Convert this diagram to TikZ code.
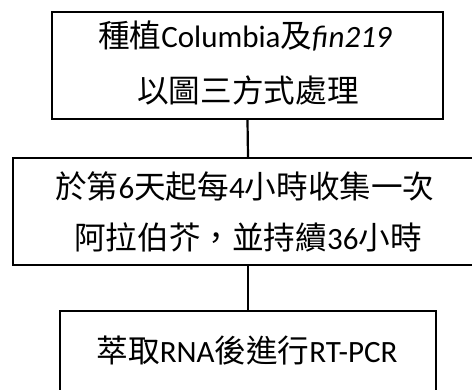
\documentclass[tikz,border=0pt]{standalone}
\usepackage{fontspec}
\setmainfont{Carlito}
\newfontfamily\cjk[Scale=1.02]{Noto Sans CJK TC}
\begin{document}
\begin{tikzpicture}[x=1pt,y=-1pt,
  box/.style={draw=black,line width=2.2pt,minimum height=107pt,inner sep=0pt},
  txt/.style={font=\fontsize{31}{36}\selectfont,inner sep=0pt,anchor=center},
  link/.style={draw=black,line width=2.2pt}]
\useasboundingbox[fill=white] (0,0) rectangle (472,390);
\node[box,minimum width=391pt] (b1) at (247.5,65.5) {};
\node[box,minimum width=470pt] (b2) at (248,211.5) {};
\node[box,minimum width=376pt] (b3) at (248,364.5) {};
\node[txt] (t1a) at (245,36) {{\cjk 種植}Columbia{\cjk 及}\textit{fin219}};
\node[txt] (t1b) at (248,90) {\cjk 以圖三方式處理};
\node[txt] (t2a) at (245,186.5) {{\cjk 於第}6{\cjk 天起每}4{\cjk 小時收集一次}};
\node[txt] (t2b) at (248,237.5) {{\cjk 阿拉伯芥，並持續}36{\cjk 小時}};
\node[txt] (t3) at (247,351) {{\cjk 萃取}RNA{\cjk 後進行}RT-PCR};
\draw[link] (b1.south) -- (b2.north);
\draw[link] (b2.south) -- (b3.north);
\end{tikzpicture}
\end{document}
